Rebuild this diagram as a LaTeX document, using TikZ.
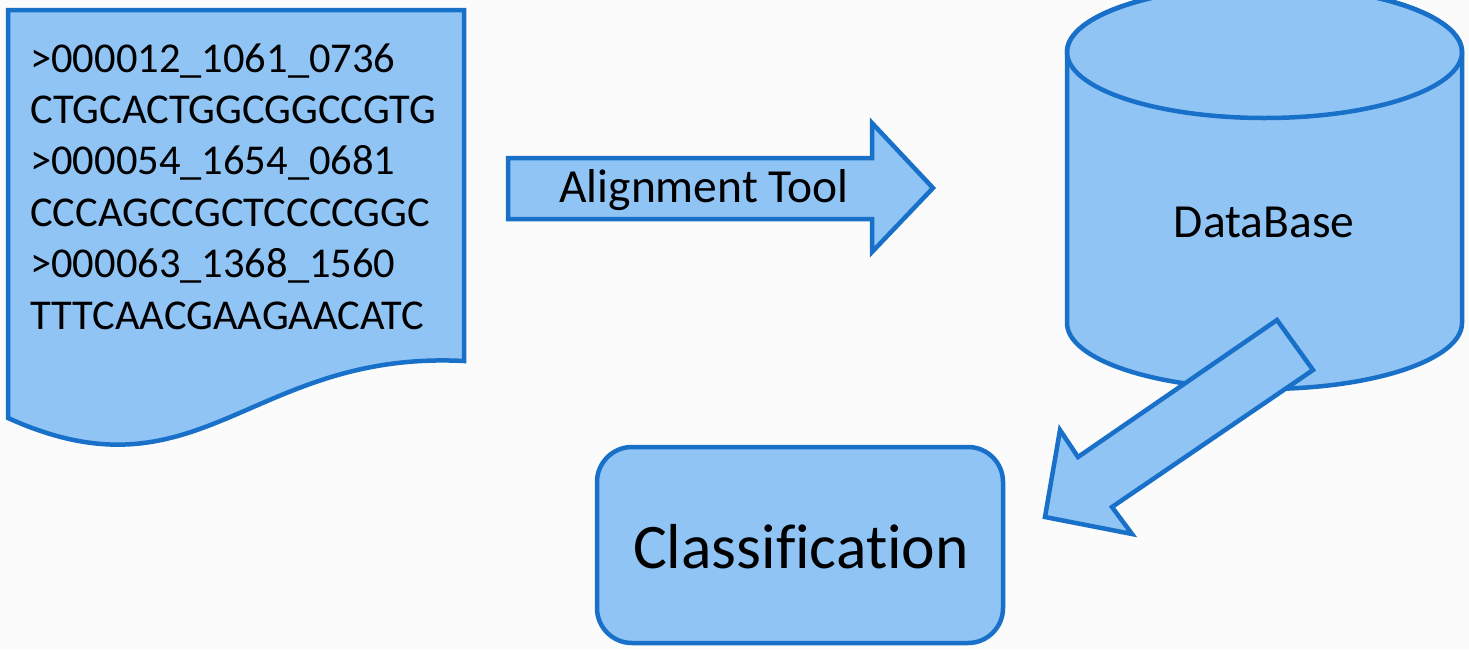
\documentclass[tikz,border=0pt]{standalone}
\usepackage{fontspec}
\setmainfont{Carlito}[Ligatures=NoCommon]
\definecolor{shapefill}{RGB}{144,196,245}
\definecolor{shapeline}{RGB}{24,112,200}
\definecolor{bgcol}{RGB}{251,251,251}
\tikzset{
  shapestyle/.style={fill=shapefill, draw=shapeline, line width=4.5pt, line join=miter},
  seqtext/.style={anchor=base west, inner sep=0pt, font=\fontsize{42.5}{50}\selectfont},
  labeltext/.style={anchor=base, inner sep=0pt, font=\fontsize{47.5}{56}\selectfont},
}
\begin{document}
\begin{tikzpicture}[x=1pt,y=-1pt]
\useasboundingbox (0,0) rectangle (1469,649);
\clip (0,0) rectangle (1469,649);
\fill[bgcol] (0,0) rectangle (1469,649);

% document shape
\path[shapestyle] (8,10) -- (464,10) -- (464,361)
  .. controls (250,350) and (200,505) .. (8,418) -- cycle;
\foreach \t [count=\i] in {>000012\_1061\_0736, CTGCACTGGCGGCCGTG, >000054\_1654\_0681, CCCAGCCGCTCCCCGGC, >000063\_1368\_1560, TTTCAACGAAGAACATC}{
  \node[seqtext] (l\i) at (30,{72+51.4*(\i-1)}) {\t};
}

% horizontal arrow
\path[shapestyle] (508,158) -- (872,158) -- (872,123) -- (933,188) -- (872,252) -- (872,219) -- (508,219) -- cycle;
\node[labeltext] (align) at (704,202) {Alignment Tool};

% cylinder
\path[shapestyle] (1067,52) -- (1067,323)
  arc[start angle=180, end angle=0, x radius=197.5, y radius=66]
  -- (1462,52)
  arc[start angle=0, end angle=-180, x radius=197.5, y radius=66] -- cycle;
\draw[draw=shapeline, line width=4.5pt] (1264.5,52) ellipse[x radius=197.5, y radius=66];
\node[labeltext] (db) at (1264,237) {DataBase};

% diagonal arrow
\path[shapestyle] (1277,320) -- (1313,370) -- (1112,507) -- (1132,534) -- (1045,517) -- (1060,430) -- (1078,457) -- cycle;

% classification box
\node[shapestyle, rounded corners=35pt, minimum width=406pt, minimum height=196pt, inner sep=0pt] (cls) at (800,545) {};
\node[anchor=base, inner sep=0pt, font=\fontsize{63.5}{70}\selectfont] (clstext) at (801,568) {Classification};
\end{tikzpicture}
\end{document}
